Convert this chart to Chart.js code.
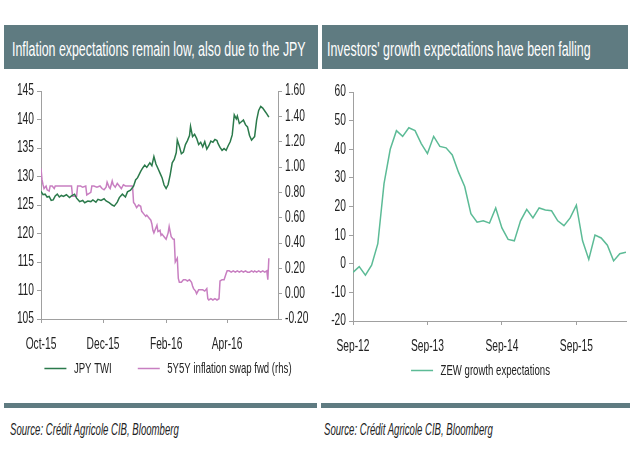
<!DOCTYPE html>
<html>
<head>
<meta charset="utf-8">
<script src="https://cdn.jsdelivr.net/npm/chart.js@4"></script>
<style>
  body { margin: 0; background: #fff; width: 630px; height: 455px; position: relative; overflow: hidden;
         font-family: 'Liberation Sans', Arial, sans-serif; }
  .bar { position: absolute; background: #5f7b81; }
  .title { position: absolute; color: #fff; font-size: 20px; line-height: 44px; height: 44px; white-space: nowrap;
           transform: scaleX(0.62); transform-origin: 0 0; }
  .src { position: absolute; top: 421px; font-size: 16px; font-style: italic; color: #222; white-space: nowrap;
         transform: scaleX(0.6); transform-origin: 0 0; }
  .box { position: absolute; top: 72px; }
</style>
</head>
<body>
<div class="bar" style="left:4px;top:25px;width:314px;height:44px"></div>
<div class="bar" style="left:322px;top:25px;width:306px;height:44px"></div>
<div class="title" style="left:12px;top:27px">Inflation expectations remain low, also due to the JPY</div>
<div class="title" style="left:327px;top:27px">Investors' growth expectations have been falling</div>

<div class="box" style="left:0;width:318px;height:330px"><canvas id="left"></canvas></div>
<div class="box" style="left:321px;width:309px;height:316px"><canvas id="right"></canvas></div>

<div class="bar" style="left:4px;top:403px;width:313px;height:5px"></div>
<div class="bar" style="left:321px;top:403px;width:309px;height:5px"></div>
<div class="src" style="left:10px">Source: Crédit Agricole CIB, Bloomberg</div>
<div class="src" style="left:324px">Source: Crédit Agricole CIB, Bloomberg</div>

<script>
// left chart: days since 1 Oct 2015
const jpyDays = [0,2,4,6,8,10,12,14,16,18,20,22,25,28,30,33,35,38,41,43,46,49,51,54,56,59,62,64,67,70,72,75,77,80,83,85,88,91,93,95,98,100,102,104,107,109,111,113,115,117,119,121,123,125,127,129,131,133,134,136,138,140,142,144,146,147,149,151,153,155,157,159,161,163,165,167,169,171,173,174,176,178,180,182,184,186,188,190,192,193,195,197,199,201,203,205,207,209,210,212,214,216,218,220,222,224];
const jpyTwi = [127.4,126.8,126.9,126.4,126.5,125.8,125.9,126.6,126.9,126.4,126.7,126.5,126.8,126.3,126.6,126.9,126.2,125.6,125.8,125.4,125.7,125.6,125.9,125.5,126.0,125.8,126.1,125.7,125.4,125.0,124.8,125.5,126.3,126.9,126.4,127.3,127.6,128.3,129.4,129.8,130.9,131.5,132.0,131.6,132.4,131.9,133.5,132.2,131.4,130.6,129.8,128.5,127.9,128.6,130.3,132.4,133.0,134.2,136.4,135.3,134.0,134.3,135.6,136.3,137.2,138.8,137.0,137.4,136.7,135.6,136.0,135.2,136.1,134.8,135.4,136.2,136.0,136.5,136.3,135.8,135.1,134.6,134.9,134.6,135.4,136.1,137.3,140.8,140.1,140.6,139.3,139.6,139.9,139.1,138.7,137.2,136.4,136.8,137.0,139.9,141.6,142.3,142.0,141.5,141.0,140.4,139.3];

const swapDays = [0,1,2,3,5,6,8,9,11,13,14,16,19,22,24,27,30,31,33,35,36,39,41,44,45,47,49,50,52,55,58,60,62,64,65,67,68,70,71,73,75,77,79,81,83,85,87,90,91,92,94,96,98,99,101,103,104,106,108,109,110,111,113,114,115,117,118,119,121,122,123,125,126,127,128,130,131,132,134,135,136,138,140,142,144,146,148,149,150,152,153,155,157,159,161,163,164,165,167,169,171,173,175,176,178,180,182,183,185,187,189,191,193,195,197,199,201,203,205,207,209,210,212,214,216,218,220,222,223,224];
const swapFwd = [0.99,0.90,0.86,0.83,0.85,0.82,0.81,0.85,0.85,0.83,0.85,0.85,0.85,0.85,0.85,0.85,0.85,0.77,0.77,0.77,0.85,0.85,0.84,0.85,0.78,0.79,0.80,0.85,0.85,0.84,0.85,0.83,0.82,0.84,0.88,0.84,0.83,0.89,0.86,0.84,0.87,0.85,0.83,0.86,0.85,0.85,0.85,0.85,0.72,0.71,0.68,0.70,0.69,0.65,0.63,0.61,0.62,0.60,0.58,0.55,0.50,0.48,0.52,0.54,0.49,0.50,0.46,0.47,0.45,0.44,0.43,0.48,0.53,0.49,0.45,0.43,0.43,0.25,0.28,0.12,0.09,0.09,0.11,0.11,0.10,0.11,0.09,0.06,0.04,0.02,0.00,0.03,0.03,0.03,0.02,0.04,-0.04,-0.05,-0.04,-0.05,-0.04,-0.05,-0.04,0.10,0.11,0.11,0.16,0.18,0.18,0.17,0.18,0.17,0.18,0.17,0.18,0.17,0.18,0.17,0.17,0.18,0.17,0.18,0.17,0.18,0.17,0.18,0.17,0.18,0.11,0.28];

const leftTickDays = [0, 61, 123, 183];
const leftTickLabels = ['Oct-15', 'Dec-15', 'Feb-16', 'Apr-16'];

// right chart: monthly, Sep-12 .. May-16
const zewMonths = ['Sep-12','Oct-12','Nov-12','Dec-12','Jan-13','Feb-13','Mar-13','Apr-13','May-13','Jun-13','Jul-13','Aug-13',
  'Sep-13','Oct-13','Nov-13','Dec-13','Jan-14','Feb-14','Mar-14','Apr-14','May-14','Jun-14','Jul-14','Aug-14',
  'Sep-14','Oct-14','Nov-14','Dec-14','Jan-15','Feb-15','Mar-15','Apr-15','May-15','Jun-15','Jul-15','Aug-15',
  'Sep-15','Oct-15','Nov-15','Dec-15','Jan-16','Feb-16','Mar-16','Apr-16','May-16'];
const zewGrowth = [-3,-1,-4,-0.5,7,28,40,46.5,44.5,47.5,46.5,42,38.5,44.5,41,40.5,38,32,27,17.5,14.5,15,14.2,19.5,
  12.5,8.5,8,15,19,16,19.5,18.8,18.5,15,13.3,16,20.5,8,1.5,10,9,6.5,1,3.5,4];
const rightTickIdx = [0, 12, 24, 36];

const FONT = "'Liberation Sans', Arial, sans-serif";
const AXIS = '#a0a0a0';
const SX = 0.64; // the reference uses a narrow face

// squeeze canvas text horizontally so it looks like Arial Narrow
function narrowText(canvas) {
  const ctx = canvas.getContext('2d');
  const fill = ctx.fillText.bind(ctx);
  const measure = ctx.measureText.bind(ctx);
  ctx.fillText = function (t, x, y, w) {
    ctx.save();
    ctx.translate(x, y);
    ctx.scale(SX, 1);
    fill(t, 0, 0);
    ctx.restore();
  };
  ctx.measureText = function (t) {
    const m = measure(t);
    return { width: m.width * SX, actualBoundingBoxAscent: m.actualBoundingBoxAscent,
      actualBoundingBoxDescent: m.actualBoundingBoxDescent,
      actualBoundingBoxLeft: m.actualBoundingBoxLeft * SX, actualBoundingBoxRight: m.actualBoundingBoxRight * SX };
  };
  return canvas;
}

// nudge the legend without touching the plot area
const legendShift = {
  id: 'legendShift',
  afterLayout(chart, args, opts) {
    const l = chart.legend;
    l.left += opts.dx; l.right += opts.dx;
    l.top += opts.dy; l.bottom += opts.dy;
  }
};

const tickFont = { family: FONT, size: 16 };

function axisStyle(extra) {
  return Object.assign({
    border: { color: AXIS, width: 1 },
    grid: { display: true, drawOnChartArea: false, drawTicks: true, tickLength: 4, color: AXIS }
  }, extra);
}

function fixTicks(values) {
  return function (scale) { scale.ticks = values.map(v => ({ value: v })); };
}

new Chart(narrowText(document.getElementById('left')), {
  type: 'line',
  data: {
    datasets: [
      { label: 'JPY TWI', data: jpyDays.map((d, i) => ({ x: d, y: jpyTwi[i] })), yAxisID: 'y',
        borderColor: '#2b7a4b', backgroundColor: '#2b7a4b', borderWidth: 1.5 },
      { label: '5Y5Y inflation swap fwd (rhs)', data: swapDays.map((d, i) => ({ x: d, y: swapFwd[i] })), yAxisID: 'y1',
        borderColor: '#c87fc1', backgroundColor: '#c87fc1', borderWidth: 1.5 }
    ]
  },
  plugins: [legendShift],
  options: {
    responsive: true, maintainAspectRatio: false, animation: false,
    layout: { padding: { top: 19, left: 0, right: 0, bottom: 0 } },
    elements: { point: { radius: 0 }, line: { tension: 0 } },
    scales: {
      x: axisStyle({ type: 'linear', min: 0, max: 233,
        afterBuildTicks: fixTicks(leftTickDays),
        afterFit: s => { s.height = 32; },
        ticks: { color: '#222', font: tickFont, padding: 12, maxRotation: 0,
          callback: v => leftTickLabels[leftTickDays.indexOf(v)] } }),
      y: axisStyle({ position: 'left', min: 105, max: 145,
        afterFit: s => { s.width = 41; },
        ticks: { color: '#222', font: tickFont, padding: 3, stepSize: 5 } }),
      y1: axisStyle({ position: 'right', min: -0.2, max: 1.6,
        afterFit: s => { s.width = 40; },
        ticks: { color: '#222', font: tickFont, padding: 3, stepSize: 0.2,
          callback: v => v.toFixed(2) } })
    },
    plugins: {
      legendShift: { dx: 9, dy: -16 },
      legend: { position: 'bottom',
        labels: { color: '#222', font: { family: FONT, size: 15 }, boxWidth: 22, boxHeight: 0, padding: 26 } },
      tooltip: { enabled: false }
    }
  }
});

new Chart(narrowText(document.getElementById('right')), {
  type: 'line',
  data: {
    datasets: [
      { label: 'ZEW growth expectations', data: zewGrowth.map((v, i) => ({ x: i, y: v })),
        borderColor: '#5cbb96', backgroundColor: '#5cbb96', borderWidth: 1.5 }
    ]
  },
  plugins: [legendShift],
  options: {
    responsive: true, maintainAspectRatio: false, animation: false,
    layout: { padding: { top: 20, left: 0, right: 4, bottom: 0 } },
    elements: { point: { radius: 0 }, line: { tension: 0 } },
    scales: {
      x: axisStyle({ type: 'linear', min: 0, max: 44,
        afterBuildTicks: fixTicks(rightTickIdx),
        afterFit: s => { s.height = 32; },
        ticks: { color: '#222', font: tickFont, padding: 12, maxRotation: 0,
          callback: v => zewMonths[v] } }),
      y: axisStyle({ min: -20, max: 60,
        afterFit: s => { s.width = 32; },
        ticks: { color: '#222', font: tickFont, padding: 3, stepSize: 10 } })
    },
    plugins: {
      legendShift: { dx: 7, dy: 0 },
      legend: { position: 'bottom',
        labels: { color: '#222', font: { family: FONT, size: 15 }, boxWidth: 22, boxHeight: 0, padding: 10 } },
      tooltip: { enabled: false }
    }
  }
});
</script>
</body>
</html>
